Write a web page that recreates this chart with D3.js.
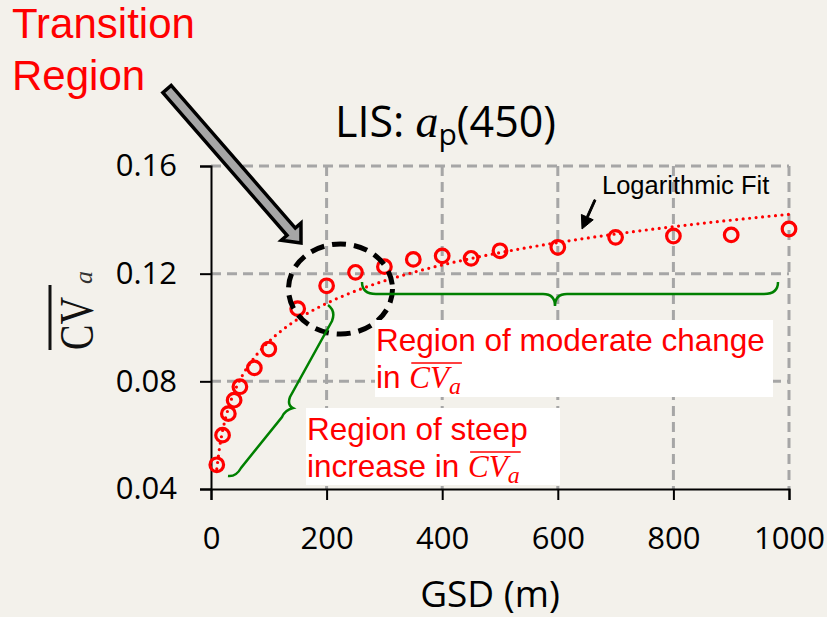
<!DOCTYPE html>
<html>
<head>
<meta charset="utf-8">
<script src="https://cdn.jsdelivr.net/npm/d3@7"></script>
<style>
  html, body { margin: 0; padding: 0; background: #f3f1eb; }
  svg { display: block; }
</style>
</head>
<body>
<svg id="chart" width="827" height="617"></svg>
<script>
/* ──── data ──── */
const gsd    = [10, 20, 30, 40, 50, 75, 100, 150, 200, 250, 300, 350, 400, 450, 500, 600, 700, 800, 900, 1000];
const cvA    = [0.049, 0.060, 0.068, 0.073, 0.078, 0.085, 0.092, 0.107, 0.1155, 0.1205, 0.1226, 0.1253,
                0.1266, 0.1257, 0.1285, 0.1298, 0.1335, 0.1340, 0.1344, 0.1366];
const xTicks = [0, 200, 400, 600, 800, 1000];
const yTicks = [0.04, 0.08, 0.12, 0.16];

const points = gsd.map((g, i) => ({ gsd: g, cv: cvA[i] }));

/* ──── layout & scales ──── */
const width  = 827, height = 617;
const x = d3.scaleLinear().domain([0, 1000]).range([211, 789]);
const y = d3.scaleLinear().domain([0.04, 0.16]).range([489, 166]);

const RED   = '#ff0000';
const GREEN = '#008000';
const SANS  = '"Open Sans", "Liberation Sans", sans-serif';
const ARIAL = '"Liberation Sans", Arial, sans-serif';
const SERIF = '"Liberation Serif", "DejaVu Serif", serif';

const svg = d3.select('#chart');
svg.append('rect').attr('width', width).attr('height', height).attr('fill', '#f3f1eb');

/* ──── dashed grid ──── */
const grid = svg.append('g')
  .attr('stroke', '#a6a6a6').attr('stroke-width', 3).attr('stroke-dasharray', '10,6');

grid.selectAll('line.h').data(yTicks.slice(1)).join('line').attr('class', 'h')
  .attr('x1', x(0)).attr('x2', x(1000))
  .attr('y1', d => y(d)).attr('y2', d => y(d));

grid.selectAll('line.v').data(xTicks.slice(1)).join('line').attr('class', 'v')
  .attr('x1', d => x(d)).attr('x2', d => x(d))
  .attr('y1', y(0.16)).attr('y2', y(0.04));

/* ──── axes ──── */
const yAxis = svg.append('g')
  .attr('transform', `translate(${x(0)},0)`)
  .call(d3.axisLeft(y).tickValues(yTicks).tickSize(11).tickPadding(23).tickFormat(d3.format('.2f')));

const xAxis = svg.append('g')
  .attr('transform', `translate(0,${y(0.04)})`)
  .call(d3.axisBottom(x).tickValues(xTicks).tickSize(11).tickPadding(27).tickFormat(d3.format('d')));

[yAxis, xAxis].forEach(g => {
  g.attr('font-family', SANS).attr('font-size', 31);
  g.selectAll('path, line').attr('stroke', '#000').attr('stroke-width', 2);
  g.selectAll('text').attr('fill', '#000').attr('font-weight', 500);
});

/* ──── logarithmic fit (least squares on ln x) ──── */
const lx   = gsd.map(Math.log);
const mx   = d3.mean(lx), my = d3.mean(cvA);
const slope = d3.sum(lx, (v, i) => (v - mx) * (cvA[i] - my)) / d3.sum(lx, v => (v - mx) ** 2);
const icpt  = my - slope * mx;
const fitPts = d3.range(10, 1001, 5).map(g => ({ gsd: g, cv: icpt + slope * Math.log(g) }));

svg.append('path')
  .datum(fitPts)
  .attr('d', d3.line().x(d => x(d.gsd)).y(d => y(d.cv)))
  .attr('fill', 'none').attr('stroke', RED).attr('stroke-width', 3.2)
  .attr('stroke-linecap', 'round').attr('stroke-dasharray', '0,6.5');

/* ──── data markers ──── */
svg.append('g').selectAll('circle')
  .data(points)
  .join('circle')
  .attr('cx', d => x(d.gsd))
  .attr('cy', d => y(d.cv))
  .attr('r', 6.8)
  .attr('fill', 'none')
  .attr('stroke', RED)
  .attr('stroke-width', 3.2);

/* ──── title ──── */
const title = svg.append('text').attr('x', 335).attr('y', 137)
  .attr('font-family', SANS).attr('font-size', 43).attr('font-weight', 500).attr('fill', '#000');
title.append('tspan').text('LIS: ');
title.append('tspan').attr('font-family', SERIF).attr('font-style', 'italic').attr('font-size', 46).text('a');
title.append('tspan').attr('font-size', 30).attr('dy', 8).text('p');
title.append('tspan').attr('dy', -8).text('(450)');

/* ──── axis titles ──── */
svg.append('text').attr('x', 490).attr('y', 607).attr('text-anchor', 'middle')
  .attr('font-family', SANS).attr('font-size', 37).attr('font-weight', 500).attr('fill', '#000').text('GSD (m)');

const yl = svg.append('g').attr('transform', 'translate(93,350) rotate(-90)');
yl.append('text').attr('x', 0).attr('y', 0)
  .attr('font-family', SERIF).attr('font-size', 48).attr('fill', '#111')
  .attr('textLength', 53).attr('lengthAdjust', 'spacingAndGlyphs').text('CV');
yl.append('text').attr('x', 66).attr('y', -1)
  .attr('font-family', SERIF).attr('font-style', 'italic').attr('font-size', 26).attr('fill', '#333').text('a');
yl.append('line').attr('x1', 0).attr('x2', 65).attr('y1', -43).attr('y2', -43)
  .attr('stroke', '#111').attr('stroke-width', 3);

/* ──── annotations ──── */
// "Transition Region"
const tr = svg.append('text').attr('font-family', ARIAL).attr('font-size', 42).attr('fill', RED);
tr.append('tspan').attr('x', 12).attr('y', 38).text('Transition');
tr.append('tspan').attr('x', 12).attr('y', 90).text('Region');

// big grey arrow
function arrowPoly(tail, tip, shaftHW, headHW, headLen) {
  const dx = tip[0] - tail[0], dy = tip[1] - tail[1];
  const L = Math.hypot(dx, dy), ux = dx / L, uy = dy / L, nx = -uy, ny = ux;
  const bx = tip[0] - ux * headLen, by = tip[1] - uy * headLen;
  return [
    [tail[0] + nx * shaftHW, tail[1] + ny * shaftHW],
    [bx + nx * shaftHW, by + ny * shaftHW],
    [bx + nx * headHW, by + ny * headHW],
    tip,
    [bx - nx * headHW, by - ny * headHW],
    [bx - nx * shaftHW, by - ny * shaftHW],
    [tail[0] - nx * shaftHW, tail[1] - ny * shaftHW]
  ];
}
svg.append('polygon')
  .attr('points', arrowPoly([167, 89], [301, 243], 5.5, 13, 15).join(' '))
  .attr('fill', '#a6a6a6').attr('stroke', '#000').attr('stroke-width', 3.5)
  .attr('stroke-linejoin', 'miter');

// dashed ellipse around transition
svg.append('ellipse')
  .attr('cx', 340.5).attr('cy', 289).attr('rx', 52).attr('ry', 45)
  .attr('fill', 'none').attr('stroke', '#000').attr('stroke-width', 5)
  .attr('stroke-dasharray', '14,8');

// Logarithmic Fit label + small arrow
svg.append('text').attr('x', 602).attr('y', 194)
  .attr('font-family', ARIAL).attr('font-size', 25.5).attr('fill', '#000').text('Logarithmic Fit');
svg.append('polygon')
  .attr('points', arrowPoly([595, 200], [582, 229], 1, 6.5, 13).join(' '))
  .attr('fill', '#000').attr('stroke', '#000').attr('stroke-width', 1);

// green braces
svg.append('path')
  .attr('d', 'M362,282 Q362,294 376,294 L543,294 Q555,294 555,306 Q555,294 567,294 L764,294 Q778,294 778,282')
  .attr('fill', 'none').attr('stroke', GREEN).attr('stroke-width', 2.5);
svg.append('path')
  .attr('d', 'M328,305 Q336,311 332,321 L290,397 Q287,405 293,408 Q285,410 282,417 L241,468 Q236,477 228,476')
  .attr('fill', 'none').attr('stroke', GREEN).attr('stroke-width', 2.5);

// white label boxes with red text
function mathLabel(sel, lead, xPos, yPos) {
  const t = sel.append('text').attr('x', xPos).attr('y', yPos)
    .attr('font-family', ARIAL).attr('font-size', 31.5).attr('fill', RED);
  t.append('tspan').text(lead);
  t.append('tspan').attr('font-family', SERIF).attr('font-style', 'italic').attr('font-size', 31).text('CV');
  t.append('tspan').attr('font-family', SERIF).attr('font-style', 'italic').attr('font-size', 24).attr('dy', 6).text('a');
  const n  = lead.length;
  const x0 = t.node().getStartPositionOfChar(n).x;
  const x1 = t.node().getEndPositionOfChar(n + 2).x;
  sel.append('line').attr('x1', x0 + 2).attr('x2', x1 + 1).attr('y1', yPos - 25).attr('y2', yPos - 25)
    .attr('stroke', RED).attr('stroke-width', 1.6);
}

const box1 = svg.append('g');
box1.append('rect').attr('x', 375).attr('y', 320).attr('width', 398).attr('height', 77).attr('fill', '#fff');
box1.append('text').attr('x', 376).attr('y', 351)
  .attr('font-family', ARIAL).attr('font-size', 31.5).attr('fill', RED).text('Region of moderate change');
mathLabel(box1, 'in ', 376, 388);

const box2 = svg.append('g');
box2.append('rect').attr('x', 306).attr('y', 408).attr('width', 254).attr('height', 77).attr('fill', '#fff');
box2.append('text').attr('x', 307).attr('y', 440)
  .attr('font-family', ARIAL).attr('font-size', 31.5).attr('fill', RED).text('Region of steep');
mathLabel(box2, 'increase in ', 307, 477);
</script>
</body>
</html>
